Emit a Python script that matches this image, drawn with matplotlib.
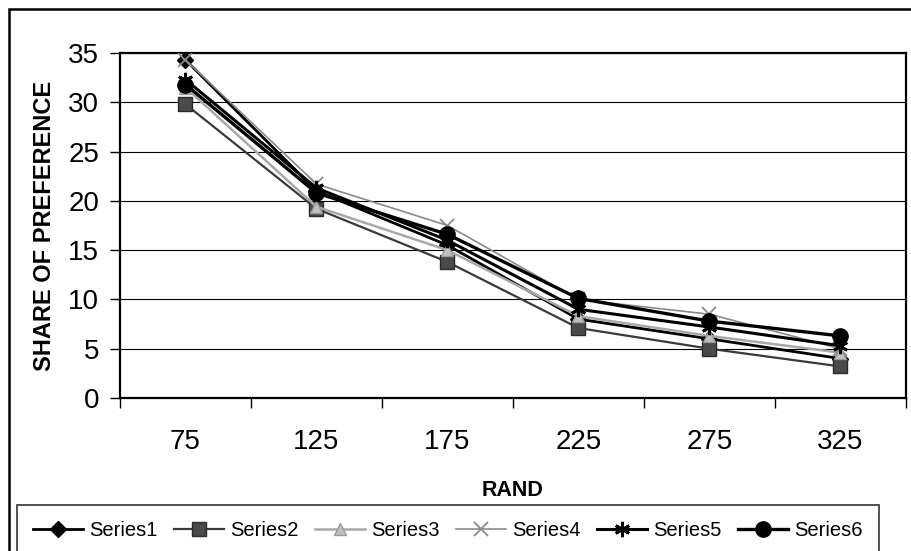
import matplotlib
matplotlib.use("Agg")
import matplotlib.pyplot as plt
from matplotlib.patches import Rectangle

plt.rcParams["font.family"] = ["Liberation Sans", "DejaVu Sans"]

# ── data ─────────────────────────────────────────
rand = ["75", "125", "175", "225", "275", "325"]
series1 = [34.3, 21.0, 15.5, 8.0, 6.0, 4.0]
series2 = [29.8, 19.2, 13.8, 7.1, 5.0, 3.2]
series3 = [31.5, 19.4, 15.0, 8.3, 6.3, 4.6]
series4 = [34.3, 21.7, 17.5, 10.0, 8.5, 5.0]
series5 = [32.3, 21.3, 16.0, 9.0, 7.2, 5.3]
series6 = [31.8, 20.8, 16.6, 10.1, 7.8, 6.3]
y_ticks = [0, 5, 10, 15, 20, 25, 30, 35]

# ── styles ───────────────────────────────────────
styles = [
    ("Series1", series1, dict(color="black", lw=2.0, marker="D", ms=8, mfc="black", mec="black")),
    ("Series2", series2, dict(color="#3a3a3a", lw=1.6, marker="s", ms=10, mfc="#4a4a4a", mec="#2a2a2a")),
    ("Series3", series3, dict(color="#a8a8a8", lw=1.8, marker="^", ms=9, mfc="#c0c0c0", mec="#9a9a9a")),
    ("Series4", series4, dict(color="#8a8a8a", lw=1.2, marker="x", ms=10, mew=1.3, mec="#8a8a8a")),
    ("Series5", series5, dict(color="black", lw=2.2, marker=(6, 2, 0), ms=11, mew=2.0, mec="black")),
    ("Series6", series6, dict(color="black", lw=2.4, marker="o", ms=11, mfc="black", mec="black")),
]

fig = plt.figure(figsize=(9.12, 5.51), dpi=100)
ax = fig.add_axes([120 / 912, 1 - 398 / 551, (906 - 120) / 912, (398 - 53) / 551])

x = list(range(len(rand)))
for name, vals, st in styles:
    ax.plot(x, vals, label=name, zorder=3, **st)

ax.set_xlim(-0.5, len(rand) - 0.5)
ax.set_ylim(0, 35)
ax.set_yticks(y_ticks)
ax.set_yticklabels([str(t) for t in y_ticks], fontsize=20)
ax.set_xticks(x)
ax.set_xticklabels(rand, fontsize=20)
ax.set_xticks([i + 0.5 for i in range(-1, len(rand))], minor=True)
ax.tick_params(axis="x", which="major", length=0, pad=22)
ax.tick_params(axis="x", which="minor", length=7, width=1, direction="out")
ax.tick_params(axis="y", length=7, width=1, direction="out", pad=8)
ax.grid(axis="y", color="black", lw=0.8, zorder=0)
for sp in ax.spines.values():
    sp.set_linewidth(1.6)
    sp.set_color("black")

ax.set_ylabel("SHARE OF PREFERENCE", fontsize=17, fontweight="bold", labelpad=9)
ax.set_xlabel("RAND", fontsize=15.5, fontweight="bold", labelpad=18)

# outer chart border
fig.patches.append(Rectangle((9 / 912, -0.05), 1.1, 1 - 9 / 551 + 0.05,
                             transform=fig.transFigure, fill=False,
                             edgecolor="black", lw=1.8))

leg = fig.legend(loc="upper left", bbox_to_anchor=(17 / 912, 1 - 505 / 551),
                 ncol=6, fontsize=14.5, frameon=True, fancybox=False,
                 edgecolor="black", handlelength=2.5, handletextpad=0.3,
                 columnspacing=0.8, borderpad=0.8, borderaxespad=0)
leg.get_frame().set_linewidth(1.2)

plt.savefig("out.png", dpi=100)
